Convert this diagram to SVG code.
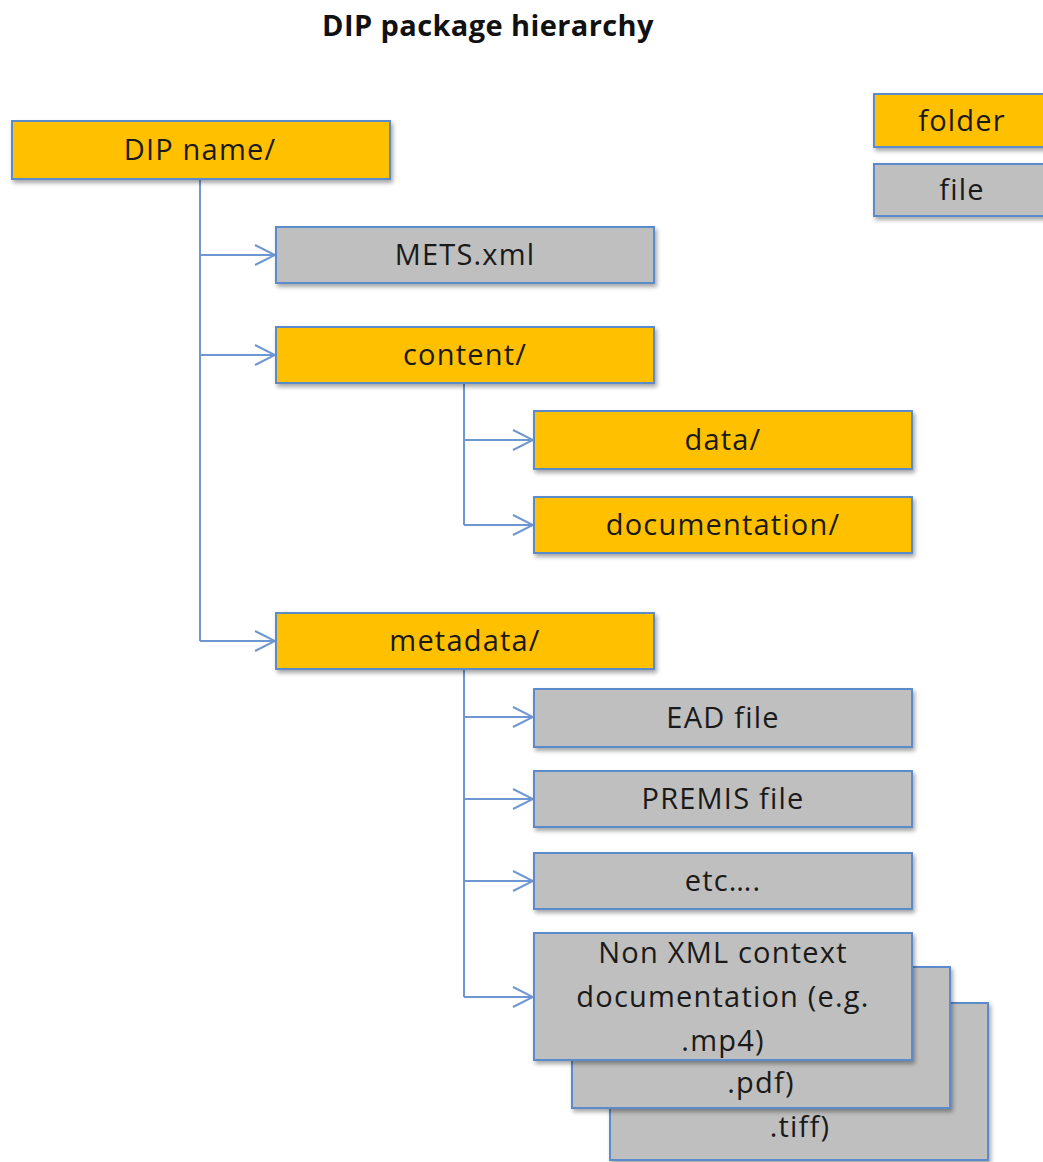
<svg xmlns="http://www.w3.org/2000/svg" width="1043" height="1162" viewBox="0 0 1043 1162">
<style>
.folder{fill:#FFC000;stroke:#5B8BCB;stroke-width:2}
.file{fill:#BFBFBF;stroke:#5B8BCB;stroke-width:2}
.lbl{font-family:"Open Sans","Liberation Sans",sans-serif;font-size:29px;fill:#1a1a1a;text-anchor:middle;letter-spacing:1.2px}
.title{font-family:"Open Sans","Liberation Sans",sans-serif;font-size:29px;font-weight:bold;fill:#111;text-anchor:middle;letter-spacing:0.4px}
.conn{fill:none;stroke:#6E97D2;stroke-width:2}
</style>
<defs>
<filter id="sh" x="-5%" y="-10%" width="115%" height="130%">
<feDropShadow dx="2" dy="3" stdDeviation="2" flood-color="#000" flood-opacity="0.35"/>
</filter>
<marker id="arr" viewBox="0 0 22 22" refX="21" refY="11" markerWidth="22" markerHeight="22" markerUnits="userSpaceOnUse" orient="auto">
<path d="M1,1 L21,11 L1,21" fill="none" stroke="#6E97D2" stroke-width="2"/>
</marker>
</defs>
<rect width="1043" height="1162" fill="#fff"/>
<text class="title" x="488" y="36">DIP package hierarchy</text>

<g id="connectors">
<path class="conn" d="M200,179 V641"/>
<path class="conn" d="M200,255 H275" marker-end="url(#arr)"/>
<path class="conn" d="M200,355 H275" marker-end="url(#arr)"/>
<path class="conn" d="M200,641 H275" marker-end="url(#arr)"/>
<path class="conn" d="M464,383 V525"/>
<path class="conn" d="M464,440 H533" marker-end="url(#arr)"/>
<path class="conn" d="M464,525 H533" marker-end="url(#arr)"/>
<path class="conn" d="M464,669 V997"/>
<path class="conn" d="M464,717 H533" marker-end="url(#arr)"/>
<path class="conn" d="M464,799 H533" marker-end="url(#arr)"/>
<path class="conn" d="M464,881 H533" marker-end="url(#arr)"/>
<path class="conn" d="M464,997 H533" marker-end="url(#arr)"/>
</g>

<g id="legend-folder"><rect class="folder" filter="url(#sh)" x="874" y="94" width="180" height="53"/><text class="lbl" x="962" y="131">folder</text></g>
<g id="legend-file"><rect class="file" filter="url(#sh)" x="874" y="164" width="180" height="52"/><text class="lbl" x="962" y="200">file</text></g>

<g id="dip-name"><rect class="folder" filter="url(#sh)" x="12" y="121" width="378" height="58"/><text class="lbl" x="200" y="160">DIP name/</text></g>
<g id="mets"><rect class="file" filter="url(#sh)" x="276" y="227" width="378" height="56"/><text class="lbl" x="465" y="265">METS.xml</text></g>
<g id="content"><rect class="folder" filter="url(#sh)" x="276" y="327" width="378" height="56"/><text class="lbl" x="465" y="365">content/</text></g>
<g id="data"><rect class="folder" filter="url(#sh)" x="534" y="411" width="378" height="58"/><text class="lbl" x="723" y="450">data/</text></g>
<g id="documentation"><rect class="folder" filter="url(#sh)" x="534" y="497" width="378" height="56"/><text class="lbl" x="723" y="535">documentation/</text></g>
<g id="metadata"><rect class="folder" filter="url(#sh)" x="276" y="613" width="378" height="56"/><text class="lbl" x="465" y="651">metadata/</text></g>
<g id="ead"><rect class="file" filter="url(#sh)" x="534" y="689" width="378" height="58"/><text class="lbl" x="723" y="728">EAD file</text></g>
<g id="premis"><rect class="file" filter="url(#sh)" x="534" y="771" width="378" height="56"/><text class="lbl" x="723" y="809">PREMIS file</text></g>
<g id="etc"><rect class="file" filter="url(#sh)" x="534" y="853" width="378" height="56"/><text class="lbl" x="723" y="891">etc….</text></g>
<g id="tiff"><rect class="file" filter="url(#sh)" x="610" y="1003" width="378" height="157"/><text class="lbl" x="800" y="1137">.tiff)</text></g>
<g id="pdf"><rect class="file" filter="url(#sh)" x="572" y="967" width="378" height="141"/><text class="lbl" x="761" y="1093">.pdf)</text></g>
<g id="nonxml"><rect class="file" filter="url(#sh)" x="534" y="933" width="378" height="127"/><text class="lbl" x="723" y="963">Non XML context</text><text class="lbl" x="723" y="1007">documentation (e.g.</text><text class="lbl" x="723" y="1051">.mp4)</text></g>
</svg>
